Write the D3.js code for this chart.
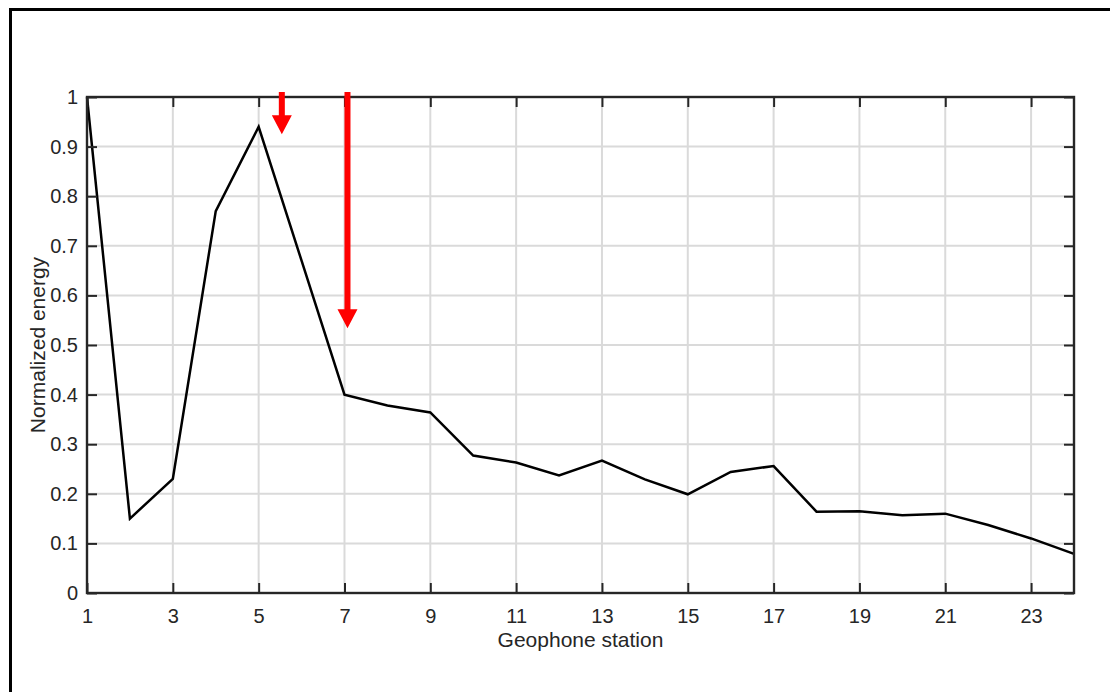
<!DOCTYPE html>
<html>
<head>
<meta charset="utf-8">
<script src="https://cdn.jsdelivr.net/npm/d3@7"></script>
<style>
  body { margin: 0; background: #fff; }
  svg { display: block; font-family: "Liberation Sans", Arial, sans-serif; }
</style>
</head>
<body>
<svg width="1110" height="692"></svg>
<script>
const stations = d3.range(1, 25);
const energy = [1.0, 0.15, 0.23, 0.77, 0.94, 0.67, 0.40, 0.378, 0.364, 0.277, 0.263, 0.237,
    0.267, 0.229, 0.199, 0.244, 0.256, 0.164, 0.165, 0.157, 0.160, 0.137, 0.110, 0.079];
const xTicks = [1, 3, 5, 7, 9, 11, 13, 15, 17, 19, 21, 23];
const yTicks = [0, 0.1, 0.2, 0.3, 0.4, 0.5, 0.6, 0.7, 0.8, 0.9, 1];

// red arrows (station position, tail value, head tip value)
const arrowX = [5.54, 7.07];
const arrowTail = [1.01, 1.01];
const arrowTip = [0.925, 0.534];

const svg = d3.select("svg"),
    width = +svg.attr("width"),
    height = +svg.attr("height");

const margin = {left: 87, right: 36, top: 97, bottom: 99};
const x = d3.scaleLinear().domain([1, 24]).range([margin.left, width - margin.right]);
const y = d3.scaleLinear().domain([0, 1]).range([height - margin.bottom, margin.top]);

// outer frame (only top/left edges visible)
svg.append("rect")
    .attr("x", 10.5).attr("y", 9.5)
    .attr("width", 1200).attr("height", 800)
    .attr("fill", "none")
    .attr("stroke", "#000")
    .attr("stroke-width", 3);

// grid
const grid = svg.append("g");
grid.selectAll(".gx")
    .data(xTicks)
    .enter().append("line")
    .attr("x1", d => x(d)).attr("x2", d => x(d))
    .attr("y1", y(0)).attr("y2", y(1))
    .attr("stroke", "#dadada").attr("stroke-width", 2);
grid.selectAll(".gy")
    .data(yTicks)
    .enter().append("line")
    .attr("x1", x(1)).attr("x2", x(24))
    .attr("y1", d => y(d)).attr("y2", d => y(d))
    .attr("stroke", "#dadada").attr("stroke-width", 2);

// data line
const line = d3.line()
    .x((d, i) => x(stations[i]))
    .y(d => y(d));

svg.append("path")
    .datum(energy)
    .attr("d", line)
    .attr("fill", "none")
    .attr("stroke", "#000")
    .attr("stroke-width", 2.5)
    .attr("stroke-linejoin", "miter");

// axes (MATLAB style, ticks inside, box on)
const axisColor = "#262626";
const tickLen = 10;

function styleAxis(g) {
    g.select(".domain").remove();
    g.selectAll(".tick line").attr("stroke", axisColor).attr("stroke-width", 2);
    g.selectAll(".tick text").attr("fill", axisColor).style("font-size", "20px");
    g.attr("font-family", null);
}

svg.append("g")
    .attr("transform", "translate(0," + y(0) + ")")
    .call(d3.axisBottom(x).tickValues(xTicks).tickSize(-tickLen).tickPadding(16).tickFormat(d3.format("d")))
    .call(styleAxis);
svg.append("g")
    .attr("transform", "translate(0," + y(1) + ")")
    .call(d3.axisTop(x).tickValues(xTicks).tickSize(-tickLen).tickFormat(""))
    .call(styleAxis);
svg.append("g")
    .attr("transform", "translate(" + x(1) + ",0)")
    .call(d3.axisLeft(y).tickValues(yTicks).tickSize(-tickLen).tickPadding(9).tickFormat(d => d3.format("~g")(d)))
    .call(styleAxis);
svg.append("g")
    .attr("transform", "translate(" + x(24) + ",0)")
    .call(d3.axisRight(y).tickValues(yTicks).tickSize(-tickLen).tickFormat(""))
    .call(styleAxis);

svg.append("rect")
    .attr("x", x(1)).attr("y", y(1))
    .attr("width", x(24) - x(1)).attr("height", y(0) - y(1))
    .attr("fill", "none")
    .attr("stroke", axisColor)
    .attr("stroke-width", 2.4);

// axis labels
svg.append("text")
    .attr("x", (x(1) + x(24)) / 2)
    .attr("y", 647)
    .attr("text-anchor", "middle")
    .attr("fill", axisColor)
    .style("font-size", "21px")
    .text("Geophone station");

svg.append("text")
    .attr("transform", "translate(45," + (y(0) + y(1)) / 2 + ") rotate(-90)")
    .attr("text-anchor", "middle")
    .attr("fill", axisColor)
    .style("font-size", "21px")
    .text("Normalized energy");

// red arrows
const shaftW = 6, headW = 20, headL = 19;
svg.append("g")
    .selectAll("path")
    .data(arrowX)
    .enter().append("path")
    .attr("fill", "#ff0000")
    .attr("d", (d, i) => {
        const cx = x(d), t = y(arrowTail[i]), tip = y(arrowTip[i]), hb = tip - headL;
        return "M" + (cx - shaftW / 2) + "," + t +
            "L" + (cx + shaftW / 2) + "," + t +
            "L" + (cx + shaftW / 2) + "," + hb +
            "L" + (cx + headW / 2) + "," + hb +
            "L" + cx + "," + tip +
            "L" + (cx - headW / 2) + "," + hb +
            "L" + (cx - shaftW / 2) + "," + hb + "Z";
    });
</script>
</body>
</html>
